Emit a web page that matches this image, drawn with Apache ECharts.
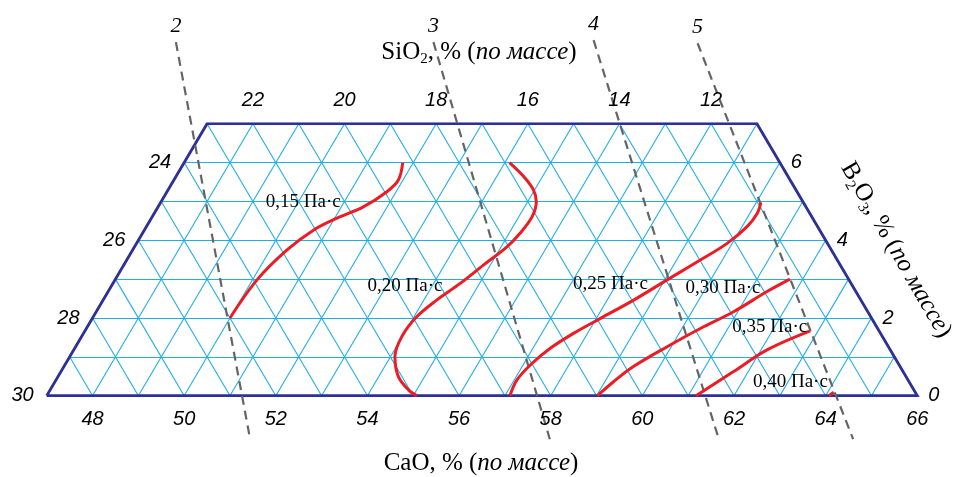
<!DOCTYPE html>
<html><head><meta charset="utf-8">
<script src="https://cdn.jsdelivr.net/npm/echarts@6/dist/echarts.min.js"></script>
<style>html,body{margin:0;padding:0;background:#fff}#c{width:958px;height:477px}</style>
</head><body><div id="c"></div>
<script>
// Section of CaO–SiO2–B2O3 system, CaO + SiO2 + B2O3 = 77 % (mass)
const TOTAL = 77;
const caoMin = 47, caoMax = 66;          // bottom edge (B2O3 = 0)
const b2o3Max = 7;                        // top edge
const sio2Min = 11;                       // right edge
const caoTicks = [48, 50, 52, 54, 56, 58, 60, 62, 64, 66];
const sio2LeftTicks = [30, 28, 26, 24];
const sio2TopTicks = [22, 20, 18, 16, 14, 12];
const b2o3Ticks = [0, 2, 4, 6];

// viscosity isolines, points as [CaO, B2O3]
const iso015 = [[50.0,2.0],[50.10,2.98],[50.37,3.75],[50.69,4.26],[51.05,4.57],[51.48,4.86],[51.80,5.25],[51.90,5.55],[51.77,6.0]];
const iso020 = [[54.10,6.0],[54.59,5.64],[54.98,5.29],[55.19,4.99],[55.29,4.61],[55.24,4.18],[55.13,3.83],[54.85,3.36],[54.58,2.89],[54.28,2.46],[54.06,2.03],[53.99,1.52],[54.10,1.0],[54.43,0.49],[54.82,0.15],[55.08,0.0]];
const iso025 = [[57.11,0.0],[57.06,0.40],[57.16,0.79],[57.38,1.22],[57.70,1.61],[58.09,1.99],[58.58,2.46],[59.05,2.98],[59.52,3.49],[59.89,3.92],[60.11,4.35],[60.16,4.69],[60.10,4.97]];
const iso030 = [[59.02,0.0],[59.19,0.36],[59.43,0.75],[59.91,1.26],[60.40,1.73],[60.91,2.16],[61.38,2.68],[61.72,3.0]];
const iso035 = [[61.17,0.0],[61.68,0.62],[62.13,1.18],[62.83,1.67]];
const iso040 = [[64.07,0.0],[64.13,0.09]];
const isoNames = ['0,15 Па·с','0,20 Па·с','0,25 Па·с','0,30 Па·с','0,35 Па·с','0,40 Па·с'];
const isoLabelAt = [[50.11,4.98],[53.41,2.82],[57.87,2.87],[60.38,2.76],[61.89,1.78],[63.06,0.34]];

// dashed composition lines 2..5, [CaO, B2O3] end points
const dashNames = ['2','3','4','5'];
const dash2 = [[45.27,9.10],[52.00,-1.12]];
const dash3 = [[50.89,9.10],[58.54,-1.12]];
const dash4 = [[54.36,9.15],[62.23,-1.12]];
const dash5 = [[56.67,9.07],[65.16,-1.12]];

// ---- projection: ternary (CaO, B2O3) -> cartesian axis values
const P = ([c, b]) => [c + b / 2, b];

const gridSegs = [];
for (let b = 1; b < b2o3Max; b++) gridSegs.push({coords: [P([caoMin, b]), P([TOTAL - sio2Min - b, b])]});
for (let c = caoMin + 1; c < caoMax; c++) {
  const bt = Math.min(b2o3Max, TOTAL - sio2Min - c);
  gridSegs.push({coords: [P([c, 0]), P([c, bt])]});
}
const sio2Max = TOTAL - caoMin;
for (let s = sio2Min + 1; s < sio2Max; s++) {
  const bt = Math.min(b2o3Max, TOTAL - caoMin - s);
  gridSegs.push({coords: [P([TOTAL - s, 0]), P([TOTAL - s - bt, bt])]});
}
const border = [P([caoMin,0]), P([TOTAL - sio2Min,0]), P([TOTAL - sio2Min - b2o3Max, b2o3Max]), P([caoMin, b2o3Max]), P([caoMin,0])];

const INK = '#000000';
const numFont = {fontFamily: 'Liberation Sans', fontStyle: 'italic', fontSize: 20, color: INK, opacity: 1};
const serif = 'Liberation Serif';
const RED = '#ec1c24', BLUE = '#1faee6', NAVY = '#2e3192', GRAY = '#636466';
const solid = {opacity: 1};

const series = [];
series.push({type: 'lines', coordinateSystem: 'cartesian2d', data: gridSegs, silent: true,
  lineStyle: {color: BLUE, width: 1.1, opacity: 1}, z: 1});
series.push({type: 'lines', coordinateSystem: 'cartesian2d', polyline: true, silent: true,
  data: [{coords: border}], lineStyle: {color: NAVY, width: 2.8, opacity: 1, join: 'miter'}, z: 3});
[dash2, dash3, dash4, dash5].forEach((d, i) => {
  series.push({type: 'lines', coordinateSystem: 'cartesian2d', clip: false, silent: true,
    data: [{coords: d.map(P)}], lineStyle: {color: GRAY, width: 2.2, type: [9, 6], opacity: 1}, z: 4});
});
series.push({type: 'scatter', clip: false, symbolSize: 0, silent: true, z: 6, itemStyle: solid,
  data: [dash2, dash3, dash4, dash5].map((d, i) => ({value: P(d[0]), name: dashNames[i]})),
  label: {show: true, position: 'top', distance: 5, formatter: '{b}', fontFamily: serif, fontStyle: 'italic', fontSize: 22, color: INK, opacity: 1}});
[iso015, iso020, iso025, iso030, iso035, iso040].forEach(d => {
  series.push({type: 'line', data: d.map(P), smooth: 0.35, symbol: 'none', clip: false, silent: true,
    lineStyle: {color: RED, width: 3}, z: 5});
});
series.push({type: 'scatter', symbolSize: 0, silent: true, z: 7, itemStyle: solid,
  data: isoLabelAt.map((p, i) => ({value: P(p), name: isoNames[i]})),
  label: {show: true, position: 'inside', formatter: '{b}', fontFamily: serif, fontSize: 19, color: INK, opacity: 1}});
// tick labels
series.push({type: 'scatter', symbolSize: 0, clip: false, silent: true, z: 7, itemStyle: solid,
  data: caoTicks.map(c => ({value: P([c, 0]), name: String(c)})),
  label: Object.assign({show: true, position: 'bottom', distance: 14, formatter: '{b}'}, numFont)});
series.push({type: 'scatter', symbolSize: 0, clip: false, silent: true, z: 7, itemStyle: solid,
  data: sio2LeftTicks.map(s => ({value: P([caoMin, TOTAL - caoMin - s]), name: String(s)})),
  label: Object.assign({show: true, position: 'left', distance: 13, formatter: '{b}'}, numFont)});
series.push({type: 'scatter', symbolSize: 0, clip: false, silent: true, z: 7, itemStyle: solid,
  data: sio2TopTicks.map(s => ({value: P([TOTAL - s - b2o3Max, b2o3Max]), name: String(s)})),
  label: Object.assign({show: true, position: 'top', distance: 13, formatter: '{b}'}, numFont)});
series.push({type: 'scatter', symbolSize: 0, clip: false, silent: true, z: 7, itemStyle: solid,
  data: b2o3Ticks.map(b => ({value: P([TOTAL - sio2Min - b, b]), name: String(b)})),
  label: Object.assign({show: true, position: 'right', distance: 11, formatter: '{b}'}, numFont)});

const rich = {
  r: {fontFamily: serif, fontSize: 25, color: INK, lineHeight: 30},
  i: {fontFamily: serif, fontSize: 25, fontStyle: 'italic', color: INK, lineHeight: 30},
  s: {fontFamily: serif, fontSize: 15, color: INK, lineHeight: 30, verticalAlign: 'bottom'}
};

const chart = echarts.init(document.getElementById('c'), null, {renderer: 'canvas'});
chart.setOption({
  animation: false,
  backgroundColor: '#fff',
  grid: {left: 46.7, right: 40.7, top: 123.7, bottom: 81.3},
  xAxis: {type: 'value', min: caoMin, max: caoMax, show: false, splitLine: {show: false}},
  yAxis: {type: 'value', min: 0, max: b2o3Max, show: false, splitLine: {show: false}},
  series: series,
  graphic: [
    {type: 'text', x: 479, y: 52, style: {text: '{r|SiO}{s|2}{r|, % (}{i|по массе}{r|)}', rich: rich, align: 'center', verticalAlign: 'middle'}},
    {type: 'text', x: 481, y: 463, style: {text: '{r|CaO, % (}{i|по массе}{r|)}', rich: rich, align: 'center', verticalAlign: 'middle'}},
    {type: 'text', x: 896, y: 250, rotation: -Math.PI / 3, style: {text: '{r|B}{s|2}{r|O}{s|3}{r|, % (}{i|по массе}{r|)}', rich: rich, align: 'center', verticalAlign: 'middle'}}
  ]
});
</script></body></html>
